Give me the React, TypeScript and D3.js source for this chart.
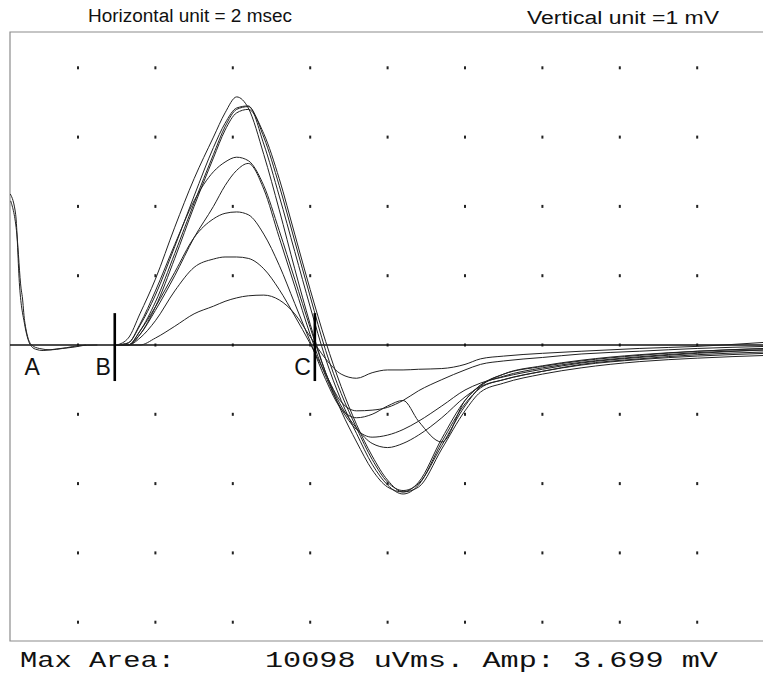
import React from 'react';
import * as d3 from 'd3';

const W = 763;
const H = 674;

// grid (2 ms per horizontal unit, 1 mV per vertical unit)
const gridTimes = [2, 4, 6, 8, 10, 12, 14, 16, 18];
const gridVolts = [4, 3, 2, 1, 0, -1, -2, -3, -4];

// sample times (ms) shared by the evoked traces
const sampleTimes = [3.0, 3.3, 3.6, 4.0, 4.5, 5.0, 5.5, 5.8, 6.1, 6.4, 6.8, 7.2, 7.6, 8.0, 8.4, 8.8, 9.2, 9.6, 10.0, 10.4, 10.8, 11.4, 12.0, 12.4, 13.0, 14.0, 15.0, 16.5, 18.0, 19.8];

// traces (mV)
const trace1 = [0, 0.1, 0.45, 0.95, 1.7, 2.4, 3.0, 3.35, 3.58, 3.42, 2.75, 1.95, 1.1, 0.3, -0.4, -0.95, -1.4, -1.8, -2.05, -2.12, -1.98, -1.35, -0.8, -0.58, -0.45, -0.33, -0.25, -0.17, -0.11, -0.07];
const trace2 = [0, 0.03, 0.28, 0.72, 1.42, 2.15, 2.85, 3.2, 3.42, 3.45, 2.9, 2.15, 1.35, 0.55, -0.2, -0.8, -1.28, -1.72, -2.02, -2.15, -2.02, -1.4, -0.85, -0.62, -0.5, -0.38, -0.29, -0.21, -0.16, -0.12];
const trace3 = [0, 0, 0.2, 0.62, 1.32, 2.05, 2.75, 3.15, 3.4, 3.44, 3.0, 2.3, 1.5, 0.7, -0.08, -0.7, -1.2, -1.65, -1.98, -2.1, -2.0, -1.45, -0.88, -0.6, -0.42, -0.3, -0.22, -0.14, -0.09, -0.05];
const trace4 = [0, 0, 0.15, 0.55, 1.25, 2.0, 2.7, 3.1, 3.35, 3.4, 3.05, 2.4, 1.6, 0.8, 0.05, -0.6, -1.15, -1.6, -1.95, -2.12, -2.05, -1.5, -0.95, -0.68, -0.55, -0.42, -0.33, -0.24, -0.19, -0.15];
const trace5 = [0, 0.03, 0.3, 0.78, 1.45, 2.08, 2.5, 2.64, 2.71, 2.66, 2.3, 1.65, 0.95, 0.25, -0.4, -0.88, -1.2, -1.42, -1.48, -1.42, -1.3, -1.05, -0.75, -0.6, -0.5, -0.38, -0.28, -0.2, -0.14, -0.1];
const trace6 = [0, 0, 0.15, 0.5, 1.0, 1.55, 2.0, 2.3, 2.52, 2.62, 2.25, 1.55, 0.85, 0.15, -0.45, -0.92, -1.22, -1.33, -1.3, -1.22, -1.1, -0.88, -0.65, -0.55, -0.46, -0.35, -0.26, -0.18, -0.12, -0.07];
const trace7 = [0, 0, 0.2, 0.55, 1.05, 1.55, 1.82, 1.9, 1.92, 1.88, 1.6, 1.15, 0.6, 0.05, -0.5, -0.92, -1.05, -1.0, -0.88, -0.8, -1.1, -1.4, -0.8, -0.58, -0.42, -0.31, -0.23, -0.15, -0.09, -0.05];
const trace8 = [0, 0, 0.1, 0.35, 0.78, 1.12, 1.24, 1.27, 1.27, 1.25, 1.1, 0.8, 0.42, 0.02, -0.42, -0.82, -0.95, -0.94, -0.9, -0.8, -0.66, -0.5, -0.36, -0.28, -0.23, -0.18, -0.13, -0.09, -0.05, -0.02];
const trace9 = [0, 0, 0, 0.1, 0.27, 0.45, 0.56, 0.63, 0.68, 0.71, 0.72, 0.65, 0.45, 0.12, -0.2, -0.42, -0.48, -0.4, -0.36, -0.36, -0.35, -0.34, -0.28, -0.2, -0.16, -0.12, -0.09, -0.05, -0.02, 0.04];
const traces = [trace1, trace2, trace3, trace4, trace5, trace6, trace7, trace8, trace9];

// stimulus artifact [ms, mV]
const artifactA: [number, number][] = [[0.25, 2.18], [0.39, 1.88], [0.49, 0.85], [0.62, 0.3], [0.76, 0.01], [0.9, -0.06], [1.1, -0.08], [1.4, -0.06], [1.7, -0.04], [2.0, -0.01], [2.5, 0]];
const artifactB: [number, number][] = [[0.26, 2.08], [0.42, 1.6], [0.53, 0.81], [0.56, 0.7], [0.62, 0.35], [0.8, 0.0], [1.0, -0.05], [1.3, -0.07], [1.6, -0.05], [1.9, -0.03], [2.2, 0]];

// markers
const markerLabels = ['A', 'B', 'C'];
const markerTimes = [0.8, 2.95, 8.12];
const markerBars = [false, true, true];

const topLeftText = 'Horizontal unit = 2 msec';
const topRightText = 'Vertical unit =1 mV';
const bottomLabel = 'Max Area:';
const bottomValues = '10098 uVms. Amp: 3.699 mV';

export default function App() {
  const x = d3.scaleLinear().domain([0, 20]).range([0.6, 774.6]);
  const y = d3.scaleLinear().domain([0, 1]).range([345, 275.7]);

  const line = d3
    .line<[number, number]>()
    .x((d) => x(d[0]))
    .y((d) => y(d[1]))
    .curve(d3.curveMonotoneX);

  const frameLeft = 10;
  const frameTop = 32;
  const frameBottom = 641;

  return (
    <svg
      width={W}
      height={H}
      viewBox={`0 0 ${W} ${H}`}
      style={{ position: 'absolute', left: 0, top: 0, background: '#fff', display: 'block' }}
    >
      <defs>
        <clipPath id="plotClip">
          <rect x={frameLeft} y={frameTop} width={W - frameLeft + 10} height={frameBottom - frameTop} />
        </clipPath>
      </defs>
      <rect x={0} y={0} width={W} height={H} fill="#fff" />

      <text
        x={88}
        y={22}
        fontFamily="'Liberation Sans', Arial, sans-serif"
        fontSize={18}
        textLength={204}
        lengthAdjust="spacingAndGlyphs"
        fill="#111"
      >
        {topLeftText}
      </text>
      <text
        x={527}
        y={24}
        fontFamily="'Liberation Sans', Arial, sans-serif"
        fontSize={18}
        textLength={192}
        lengthAdjust="spacingAndGlyphs"
        fill="#111"
      >
        {topRightText}
      </text>

      {/* frame */}
      <path
        d={`M${W + 5},${frameTop}H${frameLeft}V${frameBottom}H${W + 5}`}
        fill="none"
        stroke="#8c8c8c"
        strokeWidth={1.2}
      />

      {/* grid dots */}
      {gridVolts.map((v) =>
        gridTimes.map((t) => (
          <rect key={`${t}_${v}`} x={x(t) - 1} y={y(v) - 1.5} width={2} height={3} fill="#222" />
        ))
      )}

      {/* baseline */}
      <line x1={frameLeft} x2={W} y1={y(0)} y2={y(0)} stroke="#111" strokeWidth={1.6} />

      <g clipPath="url(#plotClip)" fill="none" stroke="#222" strokeWidth={1}>
        <path d={line(artifactA) || ''} />
        <path d={line(artifactB) || ''} />
        {traces.map((tr, i) => {
          const pts: [number, number][] = sampleTimes.map((t, j) => [t, tr[j]]);
          return <path key={i} d={line(pts) || ''} />;
        })}
      </g>

      {/* markers */}
      {markerLabels.map((lab, i) => {
        const mx = x(markerTimes[i]);
        return (
          <g key={lab}>
            {markerBars[i] && (
              <line
                x1={x(markerTimes[i])}
                x2={x(markerTimes[i])}
                y1={y(0.46)}
                y2={y(-0.52)}
                stroke="#000"
                strokeWidth={2.6}
              />
            )}
            <text
              x={markerBars[i] ? mx - 4 : mx - 7}
              y={375}
              textAnchor={markerBars[i] ? 'end' : 'start'}
              fontFamily="'Liberation Sans', Arial, sans-serif"
              fontSize={23}
              fill="#111"
            >
              {lab}
            </text>
          </g>
        );
      })}

      {/* bottom readout */}
      <text
        x={20}
        y={667}
        fontFamily="'Liberation Mono', 'DejaVu Sans Mono', monospace"
        fontSize={22}
        textLength={155}
        lengthAdjust="spacingAndGlyphs"
        fill="#111"
      >
        {bottomLabel}
      </text>
      <text
        x={265}
        y={667}
        fontFamily="'Liberation Mono', 'DejaVu Sans Mono', monospace"
        fontSize={22}
        textLength={453}
        lengthAdjust="spacingAndGlyphs"
        fill="#111"
      >
        {bottomValues}
      </text>
    </svg>
  );
}
